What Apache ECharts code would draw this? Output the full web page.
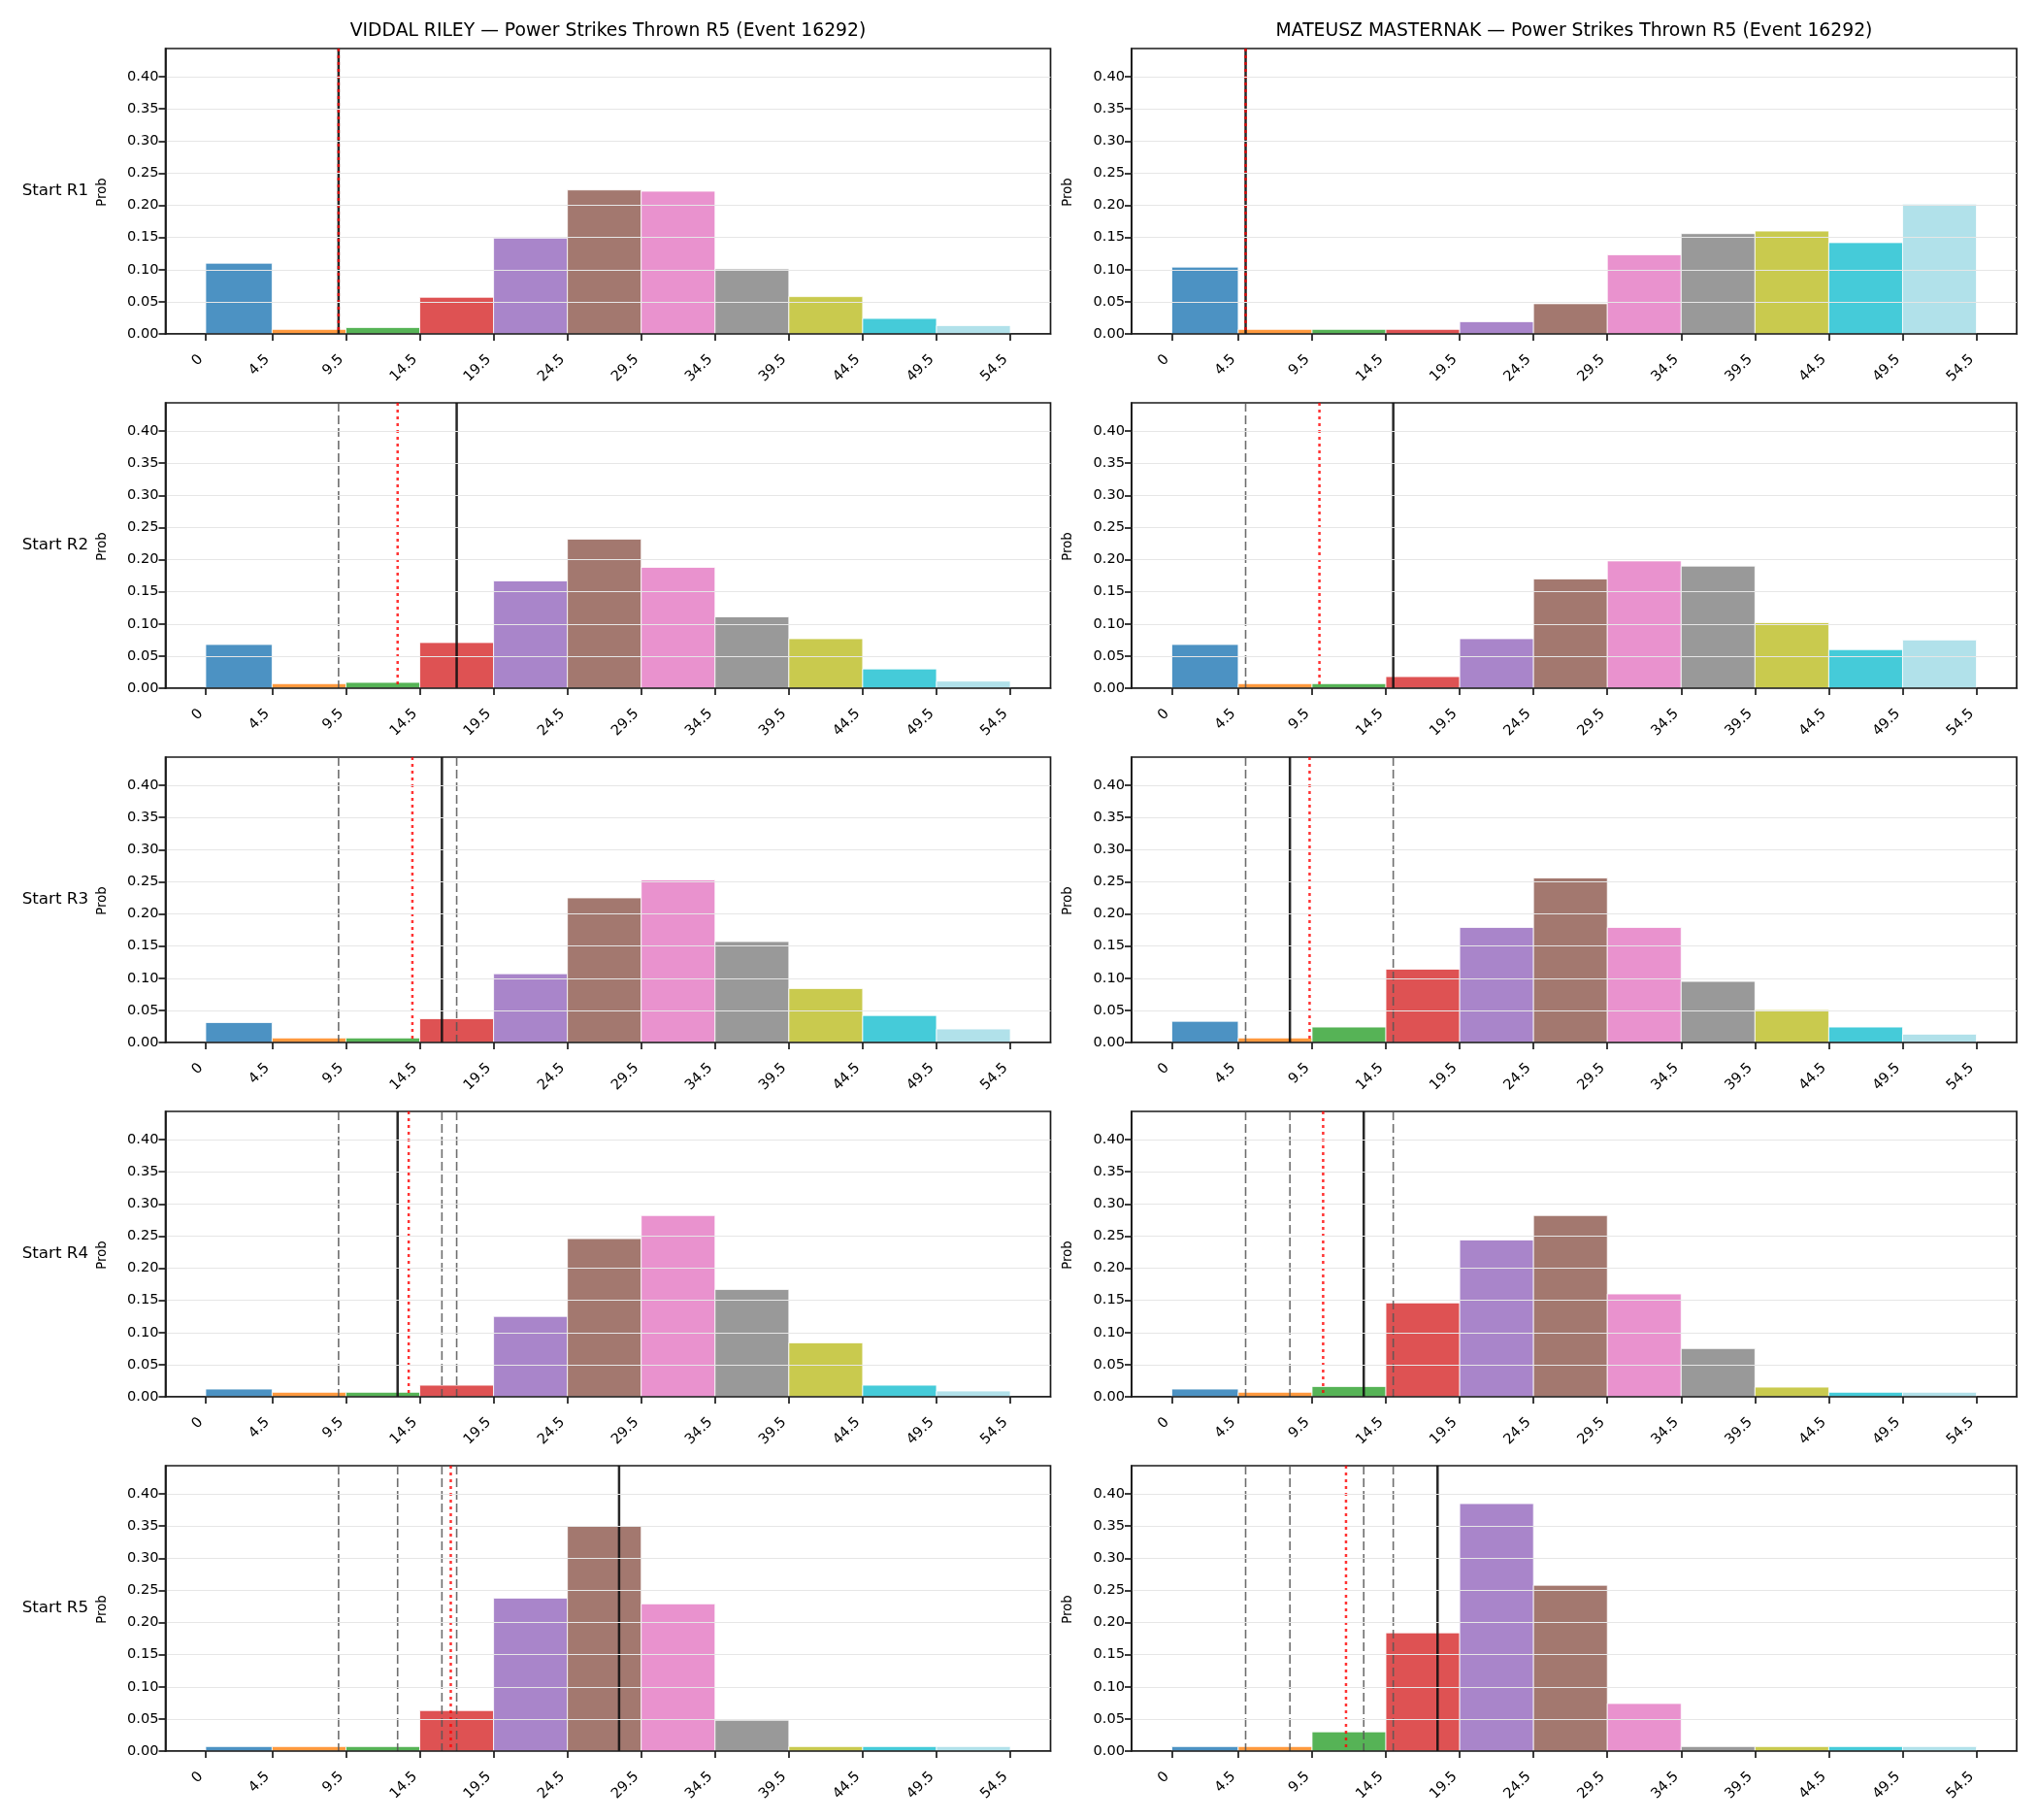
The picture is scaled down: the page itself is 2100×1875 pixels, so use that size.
<!DOCTYPE html>
<html>
<head>
<meta charset="utf-8">
<script src="https://cdn.jsdelivr.net/npm/echarts@6/dist/echarts.min.js"></script>
<style>
  html, body { margin: 0; padding: 0; background: #fff; }
  #chart { width: 2100px; height: 1875px; }
</style>
</head>
<body>
<div id="chart"></div>
<script>
// bin edges (also the x tick labels)
var binEdges = [0, 4.5, 9.5, 14.5, 19.5, 24.5, 29.5, 34.5, 39.5, 44.5, 49.5, 54.5];
var yTicks = [0, 0.05, 0.10, 0.15, 0.20, 0.25, 0.30, 0.35, 0.40];
var rowLabels = ['Start R1', 'Start R2', 'Start R3', 'Start R4', 'Start R5'];
var fighters = ['VIDDAL RILEY', 'MATEUSZ MASTERNAK'];
var titleSuffix = ' \u2014 Power Strikes Thrown R5 (Event 16292)';

// probability per bin, one array per starting round
var rileyR1 = [0.110, 0.007, 0.010, 0.057, 0.149, 0.224, 0.222, 0.101, 0.058, 0.024, 0.013];
var rileyR2 = [0.068, 0.007, 0.009, 0.071, 0.167, 0.232, 0.188, 0.111, 0.077, 0.030, 0.011];
var rileyR3 = [0.031, 0.007, 0.007, 0.037, 0.107, 0.225, 0.253, 0.157, 0.084, 0.042, 0.021];
var rileyR4 = [0.012, 0.007, 0.007, 0.018, 0.125, 0.246, 0.282, 0.167, 0.084, 0.018, 0.009];
var rileyR5 = [0.007, 0.007, 0.007, 0.063, 0.238, 0.350, 0.229, 0.048, 0.007, 0.007, 0.007];

var masternakR1 = [0.104, 0.007, 0.007, 0.007, 0.019, 0.047, 0.123, 0.156, 0.160, 0.142, 0.202];
var masternakR2 = [0.068, 0.007, 0.007, 0.018, 0.077, 0.170, 0.198, 0.190, 0.102, 0.060, 0.075];
var masternakR3 = [0.033, 0.007, 0.024, 0.114, 0.179, 0.256, 0.179, 0.095, 0.051, 0.024, 0.013];
var masternakR4 = [0.012, 0.007, 0.016, 0.146, 0.244, 0.282, 0.160, 0.075, 0.015, 0.007, 0.007];
var masternakR5 = [0.007, 0.007, 0.030, 0.184, 0.385, 0.258, 0.074, 0.007, 0.007, 0.007, 0.007];

// actual power strikes thrown in each round
var rileyRounds = [9, 17, 16, 13, 28];
var masternakRounds = [5, 15, 8, 13, 18];

var probs = [
  [rileyR1, rileyR2, rileyR3, rileyR4, rileyR5],
  [masternakR1, masternakR2, masternakR3, masternakR4, masternakR5]
];
var rounds = [rileyRounds, masternakRounds];

var barColors = ['#1f77b4', '#ff7f0e', '#2ca02c', '#d62728', '#9467bd', '#8c564b',
                 '#e377c2', '#7f7f7f', '#bcbd22', '#17becf', '#9edae5'];

var FONT = 'DejaVu Sans';
var LEFTS = [170.5, 1166];
var W = 912, H = 294, TOP0 = 50, STEP = 365;

var chart = echarts.init(document.getElementById('chart'), null, { renderer: 'canvas' });

function renderBar(params, api) {
  var a = api.coord([api.value(0), 0]);
  var b = api.coord([api.value(1), api.value(2)]);
  return {
    type: 'rect',
    shape: { x: a[0], y: b[1], width: b[0] - a[0], height: a[1] - b[1] },
    style: { fill: barColors[params.dataIndex], opacity: 0.8, stroke: '#ffffff', lineWidth: 1 }
  };
}

function vline(style) {
  return function (params, api) {
    var x = api.coord([api.value(0), 0])[0];
    var cs = params.coordSys;
    return {
      type: 'line',
      shape: { x1: x, y1: cs.y, x2: x, y2: cs.y + cs.height },
      style: style
    };
  };
}

var grids = [], xAxes = [], yAxes = [], series = [], graphics = [];

for (var c = 0; c < 2; c++) {
  graphics.push({
    type: 'text', x: LEFTS[c] + W / 2, y: 32,
    style: { text: fighters[c] + titleSuffix, fontFamily: FONT, fontSize: 18.75,
             fill: '#000', align: 'center', verticalAlign: 'middle' }
  });
}

for (var r = 0; r < 5; r++) {
  var rowTop = TOP0 + r * STEP;
  graphics.push({
    type: 'text', x: 91, y: rowTop + H / 2,
    style: { text: rowLabels[r], fontFamily: FONT, fontSize: 16.7, fill: '#000',
             align: 'right', verticalAlign: 'middle' }
  });
  for (var c = 0; c < 2; c++) {
    var idx = r * 2 + c;
    graphics.push({
      type: 'text', x: LEFTS[c] - 65, y: rowTop + H / 2 + 1, rotation: Math.PI / 2,
      style: { text: 'Prob', fontFamily: FONT, fontSize: 13.2, fill: '#000',
               align: 'center', verticalAlign: 'middle' }
    });
    grids.push({
      left: LEFTS[c], top: rowTop, width: W, height: H,
      show: true, borderColor: '#1a1a1a', borderWidth: 1.7
    });
    xAxes.push({
      type: 'value', gridIndex: idx, min: -2.725, max: 57.225, z: 10,
      axisLine: { show: true, onZero: false, lineStyle: { color: '#1a1a1a', width: 1.7 } },
      axisTick: { show: true, length: 7, customValues: binEdges,
                  lineStyle: { color: '#1a1a1a', width: 1.7 } },
      axisLabel: { show: true, customValues: binEdges, rotate: 45, margin: 19,
                   padding: [0, 7, 0, 0],
                   fontFamily: FONT, fontSize: 14.6, color: '#000',
                   formatter: function (v) { return String(v); } },
      splitLine: { show: false }
    });
    yAxes.push({
      type: 'value', gridIndex: idx, min: 0, max: 0.444, interval: 0.05, z: 10,
      axisLine: { show: true, onZero: false, lineStyle: { color: '#1a1a1a', width: 1.7 } },
      axisTick: { show: true, length: 7, customValues: yTicks,
                  lineStyle: { color: '#1a1a1a', width: 1.7 } },
      axisLabel: { show: true, customValues: yTicks, margin: 7,
                   fontFamily: FONT, fontSize: 14.6, color: '#000',
                   formatter: function (v) { return v.toFixed(2); } },
      splitLine: { show: true, lineStyle: { color: '#e6e6e6', width: 1.2 } }
    });

    var p = probs[c][r];
    var barData = [];
    for (var i = 0; i < p.length; i++) {
      barData.push([binEdges[i], binEdges[i + 1], p[i]]);
    }
    series.push({
      type: 'custom', xAxisIndex: idx, yAxisIndex: idx, z: 2,
      renderItem: renderBar, encode: { x: [0, 1], y: 2 }, data: barData
    });

    // earlier rounds dashed, this round solid, running mean dotted red
    var rv = rounds[c];
    var prev = [], sum = 0;
    for (var k = 0; k <= r; k++) { sum += rv[k]; if (k < r) prev.push([rv[k], 0]); }
    var mean = sum / (r + 1);

    series.push({
      type: 'custom', xAxisIndex: idx, yAxisIndex: idx, z: 3,
      renderItem: vline({ stroke: '#555', opacity: 0.85, lineWidth: 1.6, lineDash: [9, 4] }),
      encode: { x: 0, y: 1 }, data: prev
    });
    series.push({
      type: 'custom', xAxisIndex: idx, yAxisIndex: idx, z: 4,
      renderItem: vline({ stroke: '#111', opacity: 0.9, lineWidth: 2.5 }),
      encode: { x: 0, y: 1 }, data: [[rv[r], 0]]
    });
    series.push({
      type: 'custom', xAxisIndex: idx, yAxisIndex: idx, z: 5,
      renderItem: vline({ stroke: '#ff0000', opacity: 0.8, lineWidth: 2.5, lineDash: [3, 4] }),
      encode: { x: 0, y: 1 }, data: [[mean, 0]]
    });
  }
}

chart.setOption({
  backgroundColor: '#ffffff',
  animation: false,
  grid: grids,
  xAxis: xAxes,
  yAxis: yAxes,
  series: series,
  graphic: graphics
});
</script>
</body>
</html>
